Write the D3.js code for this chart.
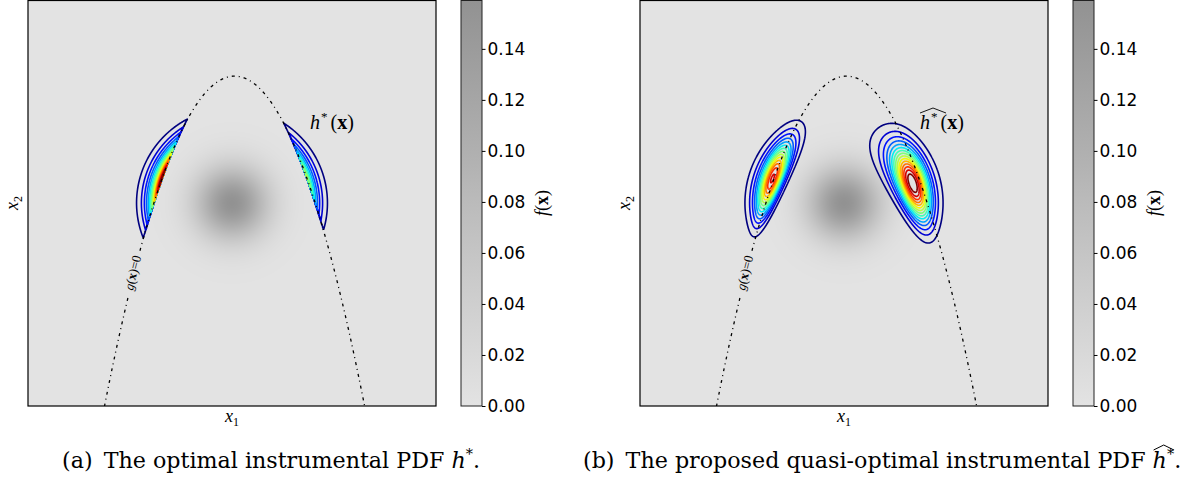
<!DOCTYPE html>
<html>
<head>
<meta charset="utf-8">
<script src="https://cdn.jsdelivr.net/npm/d3@7"></script>
<style>
body { margin: 0; background: #fff; }
svg { display: block; }
</style>
</head>
<body>
<svg id="fig" width="1192" height="482"></svg>
<script>
// axis range of both panels (standard normal space)
const domain = [-8, 8];
// limit state g(x) = b - x2 - kappa*(x1 - e)^2 : [b, kappa, e]
const limitState = [5, 0.5, 0.1];
// metamodel for the quasi-optimal pdf:
// left side shift, left sigma, right shift a - c*x2 (a, c), right sigma
const metaModel = [0, 0.65, 0.9, 0.25, 0.88];
// colorbar
const cbTicks = [0, 0.02, 0.04, 0.06, 0.08, 0.10, 0.12, 0.14];
const cbMax = 1 / (2 * Math.PI);
const greyRange = ["#e3e3e3", "#929292"];
// number of contour steps
const nLevels = 16;
// gap in the g(x)=0 curve where the inline label sits (x1 range)
const labelGap = [-4.05, -3.62];
const captions = [
  ["(a)\u2002The optimal instrumental PDF ", "h", "*", "."],
  ["(b)\u2002The proposed quasi-optimal instrumental PDF ", "h", "*", "."]
];

const W = 408, H = 406;
const panels = [{ x0: 28, hat: false }, { x0: 640, hat: true }];

const svg = d3.select("#fig");
const defs = svg.append("defs");

// matplotlib jet
const jetR = d3.scaleLinear().domain([0, 0.35, 0.66, 0.89, 1]).range([0, 0, 1, 1, 0.5]).clamp(true);
const jetG = d3.scaleLinear().domain([0, 0.125, 0.375, 0.64, 0.91, 1]).range([0, 0, 1, 1, 0, 0]).clamp(true);
const jetB = d3.scaleLinear().domain([0, 0.11, 0.34, 0.65, 1]).range([0.5, 1, 1, 0, 0]).clamp(true);
function jet(t) {
  return d3.rgb(255 * jetR(t), 255 * jetG(t), 255 * jetB(t)).toString();
}

const greyScale = d3.scaleLinear().domain([0, cbMax]).range(greyRange);

function pdf(x1, x2) { return Math.exp(-(x1 * x1 + x2 * x2) / 2) / (2 * Math.PI); }
function gfun(x1, x2) { return limitState[0] - x2 - limitState[1] * (x1 - limitState[2]) ** 2; }
function normCdf(z) {
  const t = 1 / (1 + 0.3275911 * Math.abs(z) / Math.SQRT2);
  const y = 1 - (((((1.061405429 * t - 1.453152027) * t) + 1.421413741) * t - 0.284496736) * t + 0.254829592) * t * Math.exp(-z * z / 2);
  return z >= 0 ? 0.5 * (1 + y) : 0.5 * (1 - y);
}
const hStar = (x1, x2) => gfun(x1, x2) <= 0 ? pdf(x1, x2) : 0;
const hHat = (x1, x2) => {
  const w = 1 / (1 + Math.exp(-4 * x1));
  const shift = (1 - w) * metaModel[0] + w * (metaModel[2] - metaModel[3] * x2);
  const s = (1 - w) * metaModel[1] + w * metaModel[4];
  return pdf(x1, x2) * normCdf(-(gfun(x1, x2) - shift) / s);
};

panels.forEach((p, k) => {
  const x = d3.scaleLinear().domain(domain).range([p.x0, p.x0 + W]);
  const y = d3.scaleLinear().domain(domain).range([H, 0]);
  const g = svg.append("g");

  defs.append("clipPath").attr("id", "clip" + k)
    .append("rect").attr("x", p.x0).attr("y", 0).attr("width", W).attr("height", H);

  // background density f(x)
  const cv = document.createElement("canvas");
  cv.width = W; cv.height = H;
  const ctx = cv.getContext("2d");
  const img = ctx.createImageData(W, H);
  for (let j = 0; j < H; j++) {
    for (let i = 0; i < W; i++) {
      const c = d3.rgb(greyScale(pdf(x.invert(p.x0 + i + 0.5), y.invert(j + 0.5))));
      const o = 4 * (j * W + i);
      img.data[o] = c.r; img.data[o + 1] = c.g; img.data[o + 2] = c.b; img.data[o + 3] = 255;
    }
  }
  ctx.putImageData(img, 0, 0);
  g.append("image").attr("href", cv.toDataURL())
    .attr("x", p.x0).attr("y", 0).attr("width", W).attr("height", H);

  // contours of the instrumental pdf
  const R = 2, nx = W * R, ny = H * R;
  const gx = d3.scaleLinear().domain([0, nx]).range([p.x0, p.x0 + W]);
  const gy = d3.scaleLinear().domain([0, ny]).range([0, H]);
  const fn = p.hat ? hHat : hStar;
  const vals = new Float64Array(nx * ny);
  for (let j = 0; j < ny; j++) {
    const x2 = y.invert(gy(j + 0.5));
    for (let i = 0; i < nx; i++) vals[j * nx + i] = fn(x.invert(gx(i + 0.5)), x2);
  }
  const mx = d3.max(vals);
  const levels = d3.range(1, nLevels).map(l => l * mx / nLevels);
  const contours = d3.contours().size([nx, ny]).thresholds(levels)(vals);
  const proj = d3.geoTransform({ point(px, py) { this.stream.point(gx(px), gy(py)); } });
  const path = d3.geoPath(proj);
  g.append("g").attr("clip-path", `url(#clip${k})`)
    .selectAll("path").data(contours).join("path")
    .attr("d", path)
    .attr("fill", "none")
    .attr("stroke", (d, i) => jet(i / (levels.length - 1)))
    .attr("stroke-width", 1.6)
    .attr("stroke-linejoin", "round");

  // limit state curve g(x)=0
  const pts = d3.range(-6, 6.3, 0.01).map(v => [v, limitState[0] - limitState[1] * (v - limitState[2]) ** 2]);
  const segs = [pts.filter(d => d[0] < labelGap[0]), pts.filter(d => d[0] > labelGap[1])];
  const line = d3.line().x(d => x(d[0])).y(d => y(d[1]));
  g.append("g").attr("clip-path", `url(#clip${k})`)
    .selectAll("path").data(segs).join("path")
    .attr("d", line)
    .attr("fill", "none")
    .attr("stroke", "#000")
    .attr("stroke-width", 1.3)
    .attr("stroke-dasharray", "3,4,1,4");

  // inline label
  const lx1 = (labelGap[0] + labelGap[1]) / 2;
  const lx2 = limitState[0] - limitState[1] * (lx1 - limitState[2]) ** 2;
  const slope = -2 * limitState[1] * (lx1 - limitState[2]);
  const ang = Math.atan2(y(slope) - y(0), x(1) - x(0)) * 180 / Math.PI;
  const lab = g.append("text")
    .attr("transform", `translate(${x(lx1) - 2},${y(lx2)}) rotate(${ang})`)
    .attr("text-anchor", "middle").attr("dominant-baseline", "central")
    .attr("font-family", "Liberation Serif").attr("font-size", 13);
  lab.append("tspan").attr("font-style", "italic").text("g");
  lab.append("tspan").text("(");
  lab.append("tspan").attr("font-weight", "bold").text("x");
  lab.append("tspan").text(")=0");

  // frame
  g.append("rect").attr("x", p.x0).attr("y", 0.5).attr("width", W).attr("height", H - 0.5)
    .attr("fill", "none").attr("stroke", "#000").attr("stroke-width", 1.2);

  // axis labels
  const xl = g.append("text").attr("x", x(0)).attr("y", H + 16)
    .attr("text-anchor", "middle").attr("font-family", "Liberation Serif").attr("font-size", 18);
  xl.append("tspan").attr("font-style", "italic").text("x");
  xl.append("tspan").attr("font-size", 12).attr("dy", 4).text("1");
  const yl = g.append("text").attr("transform", `translate(${p.x0 - 10},${y(0)}) rotate(-90)`)
    .attr("text-anchor", "middle").attr("font-family", "Liberation Serif").attr("font-size", 18);
  yl.append("tspan").attr("font-style", "italic").text("x");
  yl.append("tspan").attr("font-size", 12).attr("dy", 4).text("2");

  // h label
  const hx = p.hat ? p.x0 + 280 : p.x0 + 282;
  const hl = g.append("text").attr("x", hx).attr("y", 129)
    .attr("font-family", "Liberation Serif").attr("font-size", 20);
  hl.append("tspan").attr("font-style", "italic").text("h");
  hl.append("tspan").attr("font-size", 13).attr("dy", -8).attr("dx", 1).text("*");
  hl.append("tspan").attr("dy", 8).attr("dx", 3).text("(");
  hl.append("tspan").attr("font-weight", "bold").text("x");
  hl.append("tspan").text(")");
  if (p.hat) {
    g.append("path")
      .attr("d", `M${hx},${113} L${hx + 13},${108} L${hx + 26},${113}`)
      .attr("fill", "none").attr("stroke", "#000").attr("stroke-width", 0.9);
  }

  // colorbar
  const cbx = p.x0 + 433, cbw = 21;
  const cy = d3.scaleLinear().domain([0, cbMax]).range([H, 0]);
  const grad = defs.append("linearGradient").attr("id", "grad" + k)
    .attr("x1", 0).attr("y1", 1).attr("x2", 0).attr("y2", 0);
  d3.range(0, 1.001, 0.1).forEach(t => {
    grad.append("stop").attr("offset", t).attr("stop-color", greyScale(t * cbMax));
  });
  g.append("rect").attr("x", cbx).attr("y", 0.5).attr("width", cbw).attr("height", H - 0.5)
    .attr("fill", `url(#grad${k})`).attr("stroke", "#222").attr("stroke-width", 1);
  const ax = g.append("g").attr("transform", `translate(${cbx + cbw},0)`)
    .call(d3.axisRight(cy).tickValues(cbTicks).tickFormat(d3.format(".2f")).tickSize(3.5).tickPadding(2));
  ax.select(".domain").remove();
  ax.selectAll("text").attr("font-family", "DejaVu Sans").attr("font-size", 17).attr("fill", "#000");
  ax.selectAll("line").attr("stroke", "#000");
  const fl = g.append("text").attr("transform", `translate(${cbx + 87},${y(0)}) rotate(-90)`)
    .attr("text-anchor", "middle").attr("font-family", "Liberation Serif").attr("font-size", 18);
  fl.append("tspan").attr("font-style", "italic").text("f");
  fl.append("tspan").text("(");
  fl.append("tspan").attr("font-weight", "bold").text("x");
  fl.append("tspan").text(")");

  // caption
  const cap = captions[k];
  const ct = svg.append("text").attr("class", "cap").attr("x", k === 0 ? 62 : 583).attr("y", 468)
    .attr("font-family", "DejaVu Serif").attr("font-size", 22.2);
  ct.append("tspan").text(cap[0]);
  ct.append("tspan").attr("class", "caph").attr("font-style", "italic").text(cap[1]);
  ct.append("tspan").attr("font-size", 14.5).attr("dy", -9).text(cap[2]);
  ct.append("tspan").attr("dy", 9).text(cap[3]);
});

// hat over the caption h in (b)
const hcap = svg.selectAll("tspan.caph").nodes()[1];
const hs = hcap.getStartPositionOfChar(0), he = hcap.getEndPositionOfChar(0);
svg.append("path")
  .attr("d", `M${hs.x + 1},${450} L${(hs.x + he.x) / 2 + 4},${445} L${he.x + 7},${450}`)
  .attr("fill", "none").attr("stroke", "#000").attr("stroke-width", 1);
</script>
</body>
</html>
